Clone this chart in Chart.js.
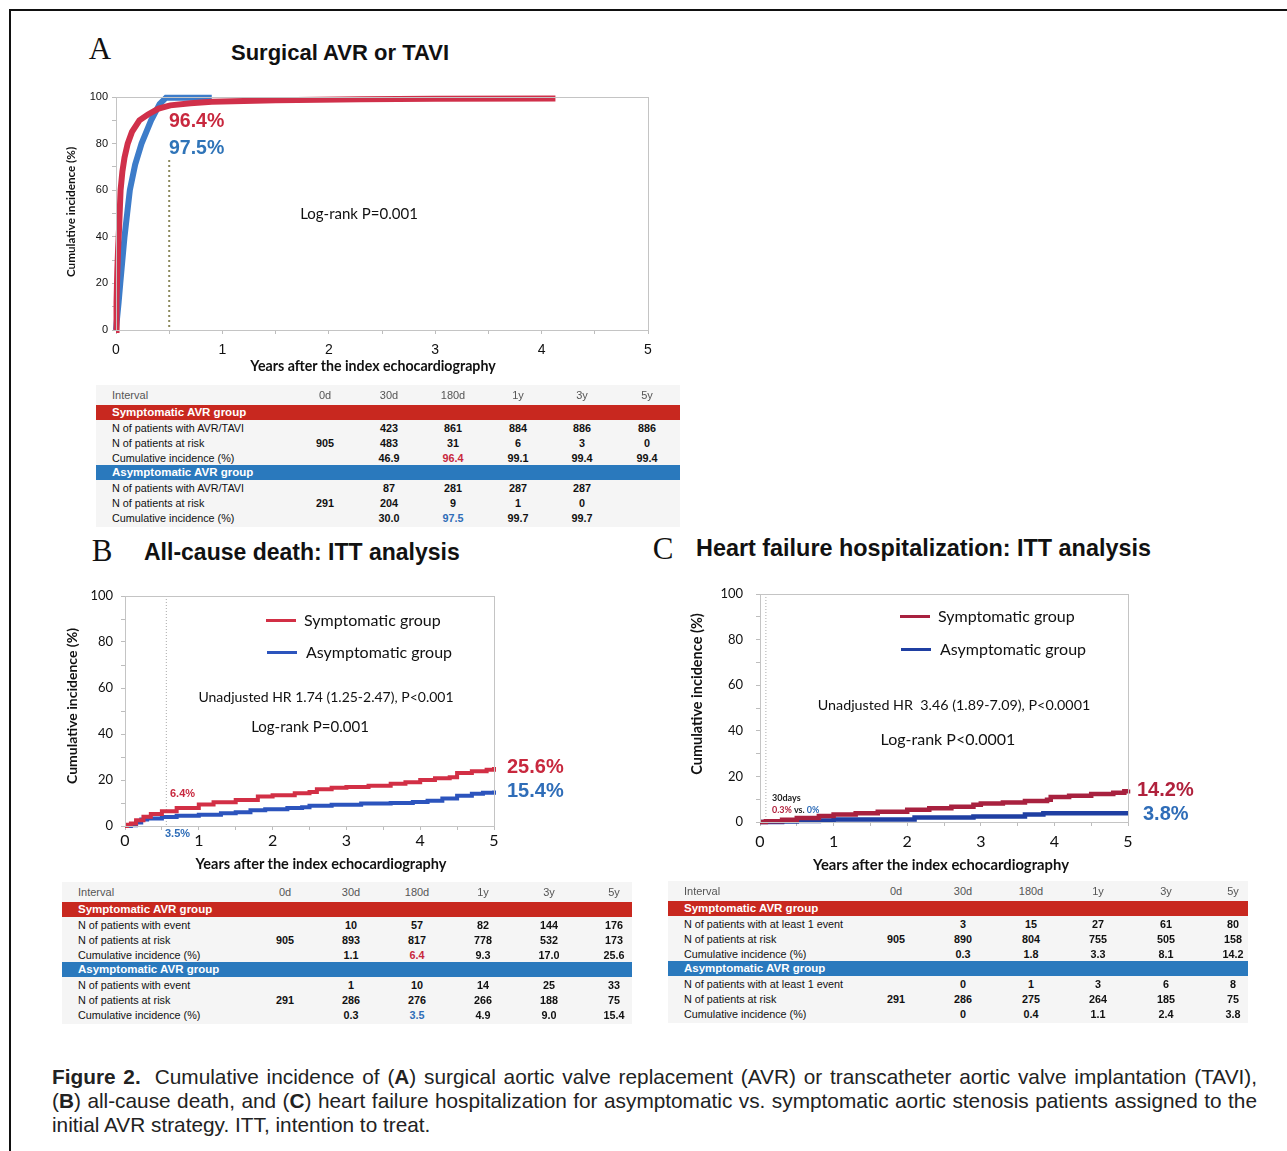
<!DOCTYPE html>
<html>
<head>
<meta charset="utf-8">
<script src="https://cdn.jsdelivr.net/npm/chart.js@4.4.1/dist/chart.umd.min.js"></script>
<style>
  body { margin: 0; background: #fff; width: 1287px; height: 1151px; position: relative; overflow: hidden;
         font-family: "Liberation Sans", Arial, sans-serif; color: #111; }
  canvas { position: absolute; }
  .t { position: absolute; white-space: nowrap; line-height: 1; }
  .frame-top { position: absolute; left: 9px; top: 9px; width: 1278px; height: 2px; background: #111; }
  .frame-left { position: absolute; left: 9px; top: 9px; width: 2px; height: 1142px; background: #111; }
  .caption { position: absolute; left: 52px; top: 1065px; width: 1205px; font-family: "Liberation Sans", Arial, sans-serif;
             font-size: 20.8px; line-height: 24px; color: #222; }
  .caption div { white-space: nowrap; text-align: justify; text-align-last: justify; }
  .caption div.last { text-align-last: left; }
  .caption b.fig { font-weight: bold; margin-right: 14px; }
</style>
</head>
<body>
<div class="frame-top"></div>
<div class="frame-left"></div>

<canvas id="chartA" width="600" height="285" style="left:60px;top:85px"></canvas>
<canvas id="chartB" width="450" height="275" style="left:60px;top:585px"></canvas>
<canvas id="chartC" width="440" height="270" style="left:700px;top:583px"></canvas>

<div class="caption">
<div><b class="fig">Figure 2.</b>Cumulative incidence of (<b>A</b>) surgical aortic valve replacement (AVR) or transcatheter aortic valve implantation (TAVI),</div>
<div>(<b>B</b>) all-cause death, and (<b>C</b>) heart failure hospitalization for asymptomatic vs. symptomatic aortic stenosis patients assigned to the</div>
<div class="last">initial AVR strategy. ITT, intention to treat.</div>
</div>

<script>
// ---- data ----
// A: surgical AVR or TAVI (years, cumulative %)
var avrSympT = [0, 0.005, 0.012, 0.02, 0.03, 0.043, 0.06, 0.08, 0.11, 0.15, 0.22, 0.3, 0.4, 0.51, 0.7, 0.9, 1.5, 2.3, 3.0, 4.13];
var avrSympY = [0, 12, 25, 35, 45, 60, 68, 74, 80, 85, 90, 92.5, 95, 96.4, 97.3, 98, 98.6, 99, 99.2, 99.4];
var avrAsymT = [0, 0.01, 0.025, 0.04, 0.06, 0.08, 0.105, 0.13, 0.18, 0.24, 0.33, 0.41, 0.47, 0.9];
var avrAsymY = [0, 5, 12, 20, 30, 40, 50, 60, 71, 80, 90, 97, 99.7, 99.7];

// B: all-cause death
var deathSympT = [0, 0.03, 0.08, 0.15, 0.25, 0.35, 0.5, 0.7, 1.0, 1.2, 1.5, 1.8, 2.0, 2.3, 2.5, 2.6, 2.8, 3.0, 3.3, 3.6, 3.8, 4.0, 4.2, 4.4, 4.5, 4.7, 4.9, 5.0];
var deathSympY = [0, 0.5, 1.1, 2.5, 4, 5.2, 6.4, 7.8, 9.3, 10.3, 11.3, 12.8, 13.4, 14.2, 14.8, 16.0, 16.6, 17.0, 17.5, 18.4, 19.0, 20.0, 20.8, 21.2, 23.0, 23.8, 24.5, 25.6];
var deathAsymT = [0, 0.08, 0.15, 0.22, 0.3, 0.5, 0.7, 1.0, 1.3, 1.5, 1.7, 1.9, 2.2, 2.4, 2.5, 2.8, 3.2, 3.6, 3.9, 4.1, 4.3, 4.5, 4.7, 4.85, 5.0];
var deathAsymY = [0, 0.3, 1.5, 2.8, 3.3, 3.9, 4.5, 4.9, 5.5, 6.0, 6.8, 7.3, 7.8, 8.2, 8.8, 9.2, 9.8, 10.0, 10.4, 11.0, 12.0, 13.2, 14.0, 14.5, 15.4];

// C: heart failure hospitalization
var hfSympT = [0, 0.08, 0.3, 0.5, 0.8, 1.0, 1.3, 1.6, 2.0, 2.3, 2.6, 2.9, 3.0, 3.3, 3.6, 3.9, 3.95, 4.2, 4.5, 4.8, 4.95, 5.0];
var hfSympY = [0, 0.3, 1.0, 1.8, 2.6, 3.3, 3.8, 4.5, 5.4, 6.0, 6.7, 7.6, 8.1, 8.6, 9.2, 9.8, 11.0, 11.5, 12.3, 12.8, 13.5, 14.2];
var hfAsymT = [0, 0.08, 0.3, 0.5, 0.8, 1.0, 2.1, 2.9, 3.6, 3.85, 5.0];
var hfAsymY = [0, 0, 0.2, 0.4, 0.7, 1.1, 2.0, 2.4, 3.3, 3.8, 3.8];

// tables
var intervals = ['0d', '30d', '180d', '1y', '3y', '5y'];
var avrSympRows = [['', '423', '861', '884', '886', '886'], ['905', '483', '31', '6', '3', '0'], ['', '46.9', '96.4', '99.1', '99.4', '99.4']];
var avrAsymRows = [['', '87', '281', '287', '287', ''], ['291', '204', '9', '1', '0', ''], ['', '30.0', '97.5', '99.7', '99.7', '']];
var deathSympRows = [['', '10', '57', '82', '144', '176'], ['905', '893', '817', '778', '532', '173'], ['', '1.1', '6.4', '9.3', '17.0', '25.6']];
var deathAsymRows = [['', '1', '10', '14', '25', '33'], ['291', '286', '276', '266', '188', '75'], ['', '0.3', '3.5', '4.9', '9.0', '15.4']];
var hfSympRows = [['', '3', '15', '27', '61', '80'], ['905', '890', '804', '755', '505', '158'], ['', '0.3', '1.8', '3.3', '8.1', '14.2']];
var hfAsymRows = [['', '0', '1', '3', '6', '8'], ['291', '286', '275', '264', '185', '75'], ['', '0', '0.4', '1.1', '2.4', '3.8']];

// ---- helpers ----
function txt(html, x, y, css, align) {
  var d = document.createElement('div');
  d.className = 't';
  d.innerHTML = html;
  d.style.cssText += css || '';
  d.style.left = x + 'px';
  d.style.top = y + 'px';
  var tx = align === 'center' ? '-50%' : (align === 'right' ? '-100%' : '0');
  d.style.transform = 'translate(' + tx + ',-50%)';
  document.body.appendChild(d);
  return d;
}

function vtxt(html, x, y, css) {
  var d = txt(html, x, y, css, 'center');
  d.style.transform = 'translate(-50%,-50%) rotate(-90deg)';
}

function hline(x, y, w, h, color) {
  var d = document.createElement('div');
  d.style.cssText = 'position:absolute;left:' + x + 'px;top:' + (y - h / 2) + 'px;width:' + w + 'px;height:' + h + 'px;background:' + color;
  document.body.appendChild(d);
}

// light frame around the plot area
var framePlugin = {
  id: 'frame',
  afterDraw: function (chart) {
    var a = chart.chartArea, ctx = chart.ctx;
    ctx.save();
    ctx.strokeStyle = '#c4c4c4';
    ctx.lineWidth = 1;
    ctx.strokeRect(a.left + 0.5, a.top + 0.5, a.right - a.left, a.bottom - a.top);
    ctx.restore();
  }
};

// dotted reference line at a given time
var vlinePlugin = {
  id: 'vline',
  beforeDatasetsDraw: function (chart, args, opts) {
    if (opts.x === undefined) return;
    var ctx = chart.ctx, xs = chart.scales.x, ys = chart.scales.y;
    var px = xs.getPixelForValue(opts.x);
    ctx.save();
    ctx.strokeStyle = opts.color;
    ctx.lineWidth = opts.width;
    ctx.setLineDash(opts.dash);
    ctx.beginPath();
    ctx.moveTo(px, ys.getPixelForValue(opts.top));
    ctx.lineTo(px, ys.getPixelForValue(0));
    ctx.stroke();
    ctx.restore();
  }
};

function kmChart(id, cfg) {
  return new Chart(document.getElementById(id), {
    type: 'line',
    data: {
      datasets: cfg.series.map(function (s) {
        return {
          data: s.t.map(function (t, i) { return { x: t, y: s.y[i] }; }),
          borderColor: s.color,
          borderWidth: cfg.lineWidth,
          pointRadius: 0,
          stepped: cfg.stepped,
          tension: 0,
          fill: false,
          clip: false
        };
      })
    },
    options: {
      responsive: false,
      animation: false,
      events: [],
      layout: { padding: cfg.pad },
      plugins: { legend: { display: false }, tooltip: { enabled: false }, vline: cfg.vline },
      scales: {
        x: {
          type: 'linear', min: 0, max: 5,
          afterFit: function (s) { s.height = cfg.xH; s.paddingLeft = 0; s.paddingRight = 0; },
          ticks: {
            stepSize: 0.5, autoSkip: false, maxRotation: 0,
            callback: function (v) { return Number.isInteger(v) ? String(v) : ''; },
            font: cfg.xFont, color: '#111', padding: cfg.xPad
          },
          grid: { drawOnChartArea: false, tickLength: 4, color: '#bdbdbd' },
          border: { color: '#bdbdbd' }
        },
        y: {
          min: 0, max: 100,
          afterFit: function (s) { s.width = cfg.yW; s.paddingTop = 0; s.paddingBottom = 0; },
          ticks: {
            stepSize: 10, autoSkip: false,
            callback: function (v) { return v % 20 === 0 ? String(v) : ''; },
            font: cfg.yFont, color: '#111', padding: cfg.yPad
          },
          grid: { drawOnChartArea: false, tickLength: 4, color: '#bdbdbd' },
          border: { color: '#bdbdbd' }
        }
      }
    },
    plugins: [framePlugin, vlinePlugin]
  });
}

// ---- charts ----
kmChart('chartA', {
  series: [
    { t: avrSympT, y: avrSympY, color: '#d0304a' },
    { t: avrAsymT, y: avrAsymY, color: '#3d7cc9' }
  ],
  lineWidth: 6, stepped: false,
  pad: { top: 12, right: 12, left: 0, bottom: 0 }, yW: 56, xH: 40,
  xFont: { family: 'Liberation Sans', size: 14 }, xPad: 8,
  yFont: { family: 'Liberation Sans', size: 11 }, yPad: 4,
  vline: { x: 0.5, top: 73, color: '#8c8a5e', width: 2, dash: [2, 3] }
});

kmChart('chartB', {
  series: [
    { t: deathSympT, y: deathSympY, color: '#d22f45' },
    { t: deathAsymT, y: deathAsymY, color: '#2c54bd' }
  ],
  lineWidth: 4, stepped: true,
  pad: { top: 11, right: 16, left: 0, bottom: 0 }, yW: 65, xH: 34,
  xFont: { family: 'Lato', size: 16 }, xPad: 1,
  yFont: { family: 'Lato', size: 13 }, yPad: 8,
  vline: { x: 0.56, top: 100, color: '#aaaaaa', width: 1, dash: [1, 2] }
});

kmChart('chartC', {
  series: [
    { t: hfSympT, y: hfSympY, color: '#a8213f' },
    { t: hfAsymT, y: hfAsymY, color: '#1f3fa2' }
  ],
  lineWidth: 4.5, stepped: true,
  pad: { top: 11, right: 12, left: 0, bottom: 0 }, yW: 60, xH: 31,
  xFont: { family: 'Lato', size: 16 }, xPad: 6,
  yFont: { family: 'Lato', size: 13 }, yPad: 13,
  vline: { x: 0.08, top: 100, color: '#aaaaaa', width: 1, dash: [1, 2] }
});

// ---- panel titles ----
var serif = 'font-family:"Liberation Serif","DejaVu Serif",serif;font-size:31px;';
var head = 'font-family:"Liberation Sans",Arial,sans-serif;font-weight:bold;font-size:22px;';
txt('A', 100, 48, serif, 'center');
txt('Surgical AVR or TAVI', 231, 53, head);
txt('B', 102, 550, serif, 'center');
txt('All-cause death: ITT analysis', 144, 552, head + 'font-size:23px;');
txt('C', 663, 548, serif, 'center');
txt('Heart failure hospitalization: ITT analysis', 696, 549, head + 'font-size:23.4px;');

// ---- axis titles ----
var axisT = 'font-family:Lato,sans-serif;font-weight:bold;font-size:14.5px;color:#111;';
txt('Years after the index echocardiography', 373, 366, axisT + 'font-size:14.2px;', 'center');
vtxt('Cumulative incidence (%)', 71, 212, axisT + 'font-size:11.7px;');
txt('Years after the index echocardiography', 321, 864, axisT, 'center');
vtxt('Cumulative incidence (%)', 72, 706, axisT + 'font-size:14px;');
txt('Years after the index echocardiography', 941, 864, axisT + 'font-size:14.8px;', 'center');
vtxt('Cumulative incidence (%)', 697, 694, axisT);

// ---- annotations ----
var note = 'font-family:Lato,sans-serif;font-size:15px;color:#111;';
var pct = 'font-family:"Liberation Sans",Arial,sans-serif;font-weight:bold;';
txt('96.4%', 169, 121, pct + 'font-size:19.5px;color:#c8283e;');
txt('97.5%', 169, 148, pct + 'font-size:19.5px;color:#2f74b8;');
txt('Log-rank P=0.001', 359, 213, note, 'center');

hline(266, 620, 30, 3, '#d22f45');
txt('Symptomatic group', 304, 620, note + 'font-size:16px;');
hline(267, 652, 30, 3, '#2c54bd');
txt('Asymptomatic group', 306, 652, note + 'font-size:16px;');
txt('Unadjusted HR 1.74 (1.25-2.47), P&lt;0.001', 326, 697, note + 'font-size:14px;', 'center');
txt('Log-rank P=0.001', 310, 726, note, 'center');
txt('25.6%', 507, 766, pct + 'font-size:20px;color:#c8283e;');
txt('15.4%', 507, 790, pct + 'font-size:20px;color:#2f6db8;');
txt('6.4%', 170, 793, pct + 'font-size:11px;color:#c8283e;');
txt('3.5%', 165, 833, pct + 'font-size:11px;color:#2f6db8;');

hline(900, 616, 30, 3, '#a8213f');
txt('Symptomatic group', 938, 616, note + 'font-size:16px;');
hline(901, 649, 30, 3, '#1f3fa2');
txt('Asymptomatic group', 940, 649, note + 'font-size:16px;');
txt('Unadjusted HR&nbsp; 3.46 (1.89-7.09), P&lt;0.0001', 954, 705, note + 'font-size:14.3px;', 'center');
txt('Log-rank P&lt;0.0001', 948, 739, note + 'font-size:16px;', 'center');
txt('14.2%', 1137, 789, pct + 'font-size:20px;color:#b0213c;');
txt('3.8%', 1143, 813, pct + 'font-size:20px;color:#2f6db8;');
txt('30days', 772, 797, 'font-family:Lato,sans-serif;font-weight:bold;font-size:9px;color:#222;');
txt('<span style="color:#b0213c">0.3%</span> vs. <span style="color:#2f6db8">0%</span>', 772, 809,
    'font-family:Lato,sans-serif;font-weight:bold;font-size:9px;color:#222;');

// ---- at-risk tables ----
function riskTable(x, y, w, colX, eventLabel, sympRows, asymRows, hiSymp, hiAsym) {
  var box = document.createElement('div');
  box.style.cssText = 'position:absolute;left:' + x + 'px;top:' + y + 'px;width:' + w + 'px;height:142px;background:#f5f5f5';
  document.body.appendChild(box);
  var lab = x + 16;
  var cell = 'font-size:10.8px;color:#111;';
  txt('Interval', lab, y + 10, 'font-size:11px;color:#555;');
  intervals.forEach(function (c, i) { txt(c, colX[i], y + 10, 'font-size:11px;color:#555;', 'center'); });
  var labels = [eventLabel, 'N of patients at risk', 'Cumulative incidence (%)'];
  [[sympRows, 'Symptomatic AVR group', '#c8281f', 20, '#c8283e', hiSymp],
   [asymRows, 'Asymptomatic AVR group', '#2a79bd', 80, '#2f6db8', hiAsym]].forEach(function (g) {
    var band = document.createElement('div');
    band.style.cssText = 'position:absolute;left:' + x + 'px;top:' + (y + g[3]) + 'px;width:' + w + 'px;height:15px;background:' + g[2];
    document.body.appendChild(band);
    txt(g[1], lab, y + g[3] + 8, 'font-size:11.5px;font-weight:bold;color:#fff;');
    g[0].forEach(function (row, r) {
      var ry = y + g[3] + 23 + r * 15;
      txt(labels[r], lab, ry, cell);
      row.forEach(function (v, i) {
        var col = (r === 2 && i === g[5]) ? g[4] : '#111';
        txt(v, colX[i], ry, cell + 'font-weight:bold;color:' + col + ';', 'center');
      });
    });
  });
}

riskTable(96, 385, 584, [325, 389, 453, 518, 582, 647], 'N of patients with AVR/TAVI', avrSympRows, avrAsymRows, 2, 2);
riskTable(62, 882, 570, [285, 351, 417, 483, 549, 614], 'N of patients with event', deathSympRows, deathAsymRows, 2, 2);
riskTable(668, 881, 580, [896, 963, 1031, 1098, 1166, 1233], 'N of patients with at least 1 event', hfSympRows, hfAsymRows, -1, -1);
</script>
</body>
</html>
